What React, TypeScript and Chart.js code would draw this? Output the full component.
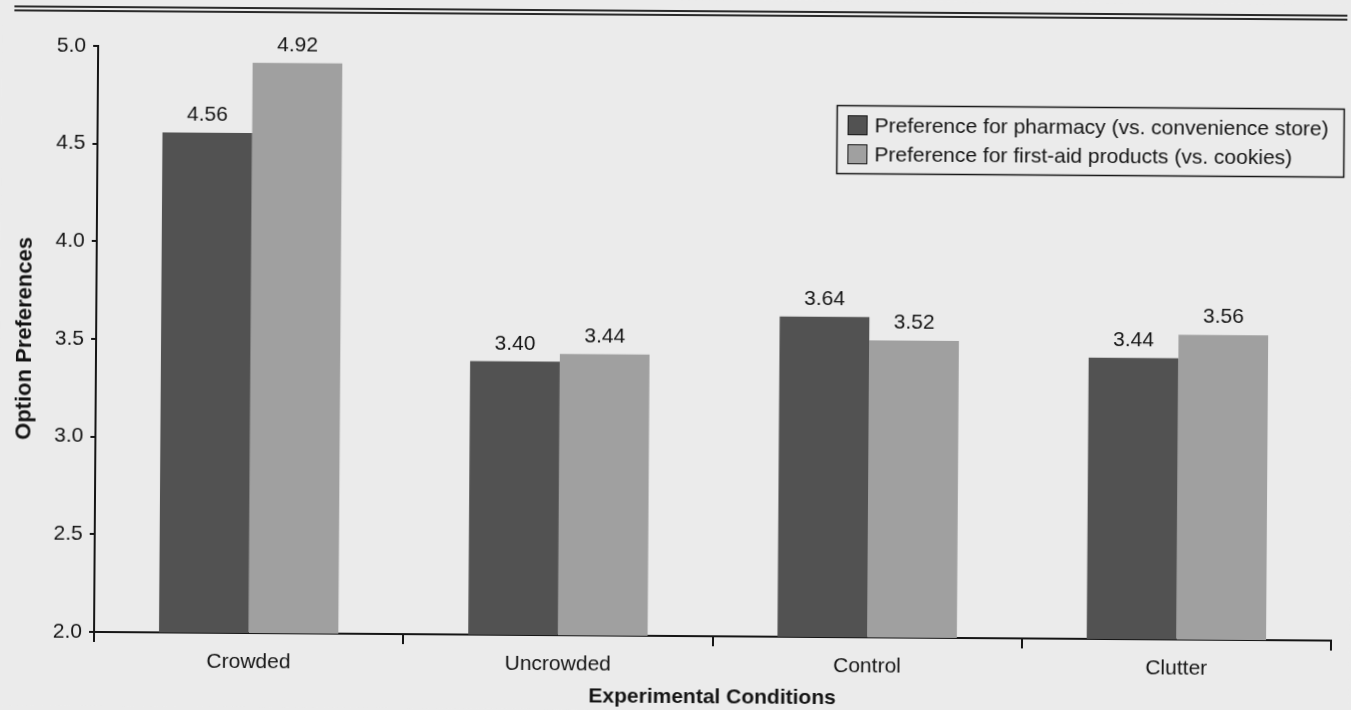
import React, { useEffect, useRef } from "react";
import { Chart, registerables } from "chart.js";

Chart.register(...registerables);

const categories = ["Crowded", "Uncrowded", "Control", "Clutter"];
const pharmacyPref = [4.56, 3.4, 3.64, 3.44];
const firstAidPref = [4.92, 3.44, 3.52, 3.56];
const seriesLabels = [
  "Preference for pharmacy (vs. convenience store)",
  "Preference for first-aid products (vs. cookies)",
];
const yTickValues = [2.0, 2.5, 3.0, 3.5, 4.0, 4.5, 5.0];
const xTitle = "Experimental Conditions";
const yTitle = "Option Preferences";

const FONT = "'Liberation Sans', Arial, Helvetica, sans-serif";
const BG = "#ebebeb";
const INK = "#151515";
const DARK = "#525252";
const LIGHT = "#a0a0a0";

const backgroundPlugin = {
  id: "bgFill",
  beforeDraw(chart: any) {
    const { ctx, width, height } = chart;
    ctx.save();
    ctx.fillStyle = BG;
    ctx.fillRect(0, 0, width, height);
    // double rule at top of the page
    ctx.fillStyle = "#2a2a2a";
    ctx.fillRect(12, 10, 1333, 2);
    ctx.fillRect(12, 14, 1333, 2);
    ctx.restore();
  },
};

const valueLabelPlugin = {
  id: "valueLabels",
  afterDatasetsDraw(chart: any) {
    const { ctx } = chart;
    ctx.save();
    ctx.fillStyle = INK;
    ctx.font = `21px ${FONT}`;
    ctx.textAlign = "center";
    ctx.textBaseline = "alphabetic";
    chart.data.datasets.forEach((ds: any, di: number) => {
      const meta = chart.getDatasetMeta(di);
      meta.data.forEach((bar: any, i: number) => {
        const v = ds.data[i] as number;
        ctx.fillText(v.toFixed(2), bar.x, bar.y - 12);
      });
    });
    ctx.restore();
  },
};

const boxLegendPlugin = {
  id: "boxLegend",
  afterDraw(chart: any) {
    const { ctx } = chart;
    const lx = 835;
    const ly = 104;
    const lw = 507;
    const lh = 68;
    ctx.save();
    ctx.strokeStyle = INK;
    ctx.lineWidth = 1.5;
    ctx.strokeRect(lx + 0.5, ly + 0.5, lw, lh);
    ctx.font = `21px ${FONT}`;
    ctx.textBaseline = "middle";
    ctx.textAlign = "left";
    const rows = [124, 153];
    chart.data.datasets.forEach((ds: any, i: number) => {
      const cy = rows[i];
      ctx.fillStyle = ds.backgroundColor;
      ctx.fillRect(846, cy - 10, 20, 20);
      ctx.strokeStyle = INK;
      ctx.lineWidth = 1;
      ctx.strokeRect(846.5, cy - 9.5, 19, 19);
      ctx.fillStyle = INK;
      ctx.fillText(ds.label, 873, cy + 1);
    });
    ctx.restore();
  },
};

export default function App() {
  const canvasRef = useRef<HTMLCanvasElement | null>(null);

  useEffect(() => {
    if (!canvasRef.current) return;
    const chart = new Chart(canvasRef.current, {
      type: "bar",
      data: {
        labels: categories,
        datasets: [
          {
            label: seriesLabels[0],
            data: pharmacyPref,
            backgroundColor: DARK,
            borderWidth: 0,
            categoryPercentage: 0.58,
            barPercentage: 1.0,
          },
          {
            label: seriesLabels[1],
            data: firstAidPref,
            backgroundColor: LIGHT,
            borderWidth: 0,
            categoryPercentage: 0.58,
            barPercentage: 1.0,
          },
        ],
      },
      options: {
        animation: false,
        responsive: false,
        devicePixelRatio: 1,
        layout: { padding: { left: 0, top: 50, right: 18, bottom: 0 } },
        plugins: {
          legend: { display: false },
          title: { display: false },
          tooltip: { enabled: false },
        },
        scales: {
          x: {
            type: "category",
            afterFit(scale: any) {
              scale.height = 74;
            },
            grid: {
              display: true,
              offset: true,
              drawOnChartArea: false,
              drawTicks: true,
              tickLength: 10,
              color: INK,
              lineWidth: 2,
            },
            border: { display: true, color: INK, width: 2 },
            ticks: {
              color: INK,
              padding: 7,
              font: { family: FONT, size: 21 },
              maxRotation: 0,
            },
            title: {
              display: true,
              text: xTitle,
              color: INK,
              font: { family: FONT, size: 21, weight: "bold" },
              padding: { top: 0, bottom: 0 },
            },
          },
          y: {
            type: "linear",
            min: 2,
            max: 5,
            afterFit(scale: any) {
              scale.width = 96;
            },
            afterBuildTicks(scale: any) {
              scale.ticks = yTickValues.map((v) => ({ value: v }));
            },
            grid: {
              display: true,
              drawOnChartArea: false,
              drawTicks: true,
              tickLength: 5,
              color: INK,
              lineWidth: 2,
            },
            border: { display: true, color: INK, width: 2 },
            ticks: {
              color: INK,
              padding: 7,
              font: { family: FONT, size: 21 },
              callback: (v: any) => Number(v).toFixed(1),
            },
            title: {
              display: true,
              text: yTitle,
              color: INK,
              font: { family: FONT, size: 22, weight: "bold" },
              padding: { top: 12, bottom: 0 },
            },
          },
        },
      },
      plugins: [backgroundPlugin, valueLabelPlugin, boxLegendPlugin],
    } as any);
    return () => chart.destroy();
  }, []);

  return (
    <div
      style={{
        position: "fixed",
        left: 0,
        top: 0,
        width: 1351,
        height: 710,
        background: BG,
        overflow: "hidden",
      }}
    >
      <canvas
        ref={canvasRef}
        width={1351}
        height={710}
        style={{
          display: "block",
          width: 1351,
          height: 710,
          transform: "rotate(0.4deg)",
          transformOrigin: "675.5px 355px",
        }}
      />
    </div>
  );
}
